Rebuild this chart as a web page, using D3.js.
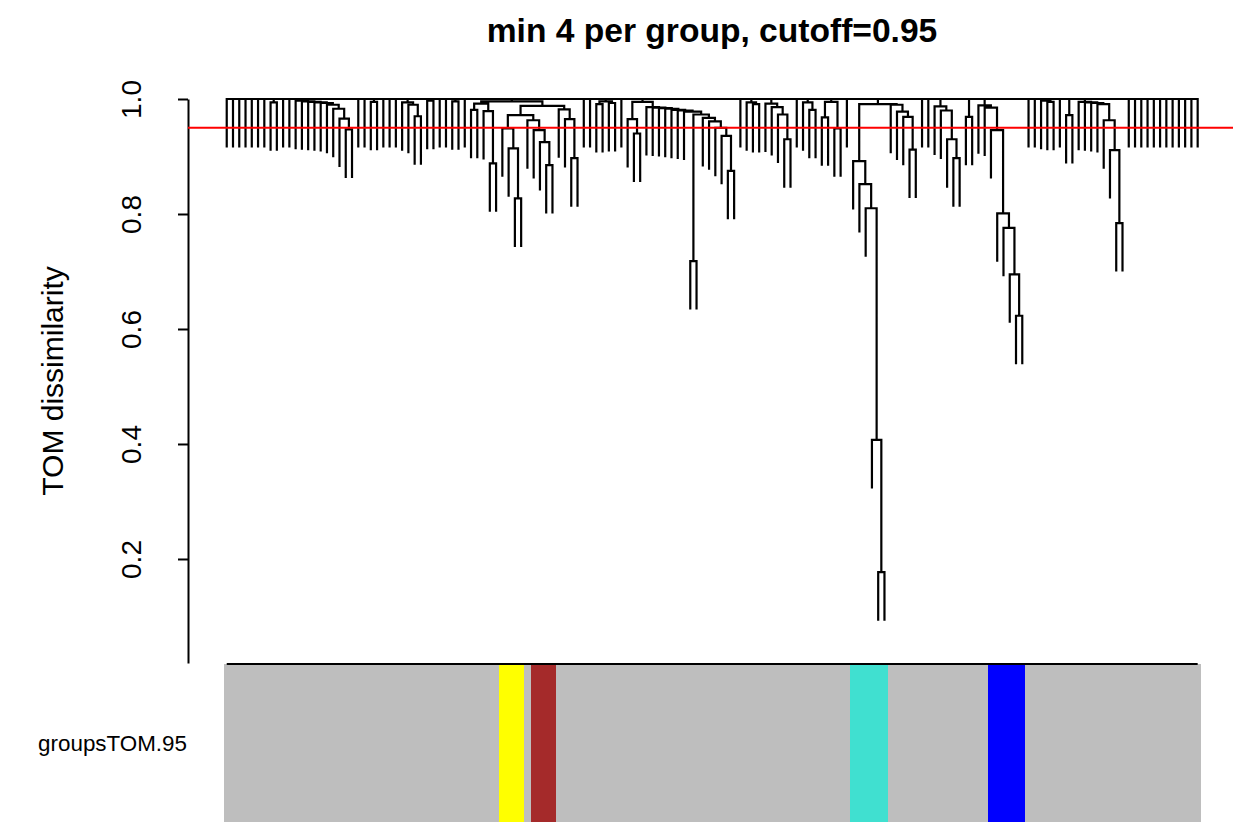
<!DOCTYPE html>
<html>
<head>
<meta charset="utf-8">
<script src="https://d3js.org/d3.v7.min.js"></script>
<style>
  body { margin: 0; background: #fff; }
  svg { display: block; font-family: "Liberation Sans", Arial, Helvetica, sans-serif; }
</style>
</head>
<body>
<div id="chart"></div>
<script>
// ---- data ----
var title = "min 4 per group, cutoff=0.95";
var yLabel = "TOM dissimilarity";
var colorLabel = "groupsTOM.95";
var yTicks = [0.2, 0.4, 0.6, 0.8, 1.0];
var cutHeight = 0.95;
var rootHeight = 1.0;

// top level blocks of the dendrogram, left to right; "x" is a leaf, "(a,b)h" a merge at height h
var treeBlocks = [
  "x", "x", "x", "x", "x", "x", "x",
  "(x,x)0.994",
  "x", "x",
  "(x,(x,(x,(x,(x,(x,(x,(x,(x,x)0.947)0.966)0.983)0.990)0.993)0.994)0.995)0.996)0.997",
  "x", "x",
  "(x,x)0.995",
  "x", "x", "x",
  "(x,(x,(x,x)0.970)0.990)0.994",
  "(x,x)0.997",
  "x", "x",
  "(x,x)0.996",
  "x",
  "(((x,x)0.981,(x,(x,x)0.888)0.979)0.992,(((x,(x,(x,x)0.827)0.914)0.949,(x,(x,(x,(x,x)0.885)0.925)0.946)0.963)0.972,(x,(x,(x,x)0.897)0.965)0.982)0.988)0.996",
  "x", "x",
  "((x,x)0.991,(x,x)0.993)0.996",
  "x",
  "((x,(x,x)0.940)0.965,(x,(x,(x,(x,(x,(x,(x,((x,x)0.718,(x,(x,(x,(x,(x,x)0.875)0.936)0.950)0.961)0.967)0.973)0.978)0.980)0.981)0.983)0.984)0.985)0.986)0.995",
  "x",
  "(x,(x,x)0.991)0.994",
  "(x,(x,(x,(x,x)0.930)0.973)0.986)0.992",
  "x",
  "(x,(x,x)0.981)0.994",
  "((x,x)0.968,(x,x)0.949)0.995",
  "x",
  "((x,(x,(x,(x,(x,x)0.177)0.407)0.810)0.852)0.892,(x,(x,(x,(x,x)0.912)0.969)0.978)0.990)0.991",
  "x", "x",
  "(x,(x,(x,(x,x)0.897)0.930)0.980)0.987",
  "(x,x)0.969",
  "(x,(x,(x,(x,(x,(x,(x,x)0.623)0.695)0.776)0.801)0.946)0.985)0.989",
  "x", "x",
  "(x,(x,x)0.995)0.997",
  "x",
  "(x,x)0.972",
  "(x,(x,(x,(x,(x,(x,(x,x)0.784)0.911)0.963)0.991)0.993)0.994)0.995",
  "x", "x", "x", "x", "x", "x", "x", "x", "x", "x", "x", "x"
];

// module colour bar: groups of consecutive leaves (1-based first leaf)
var groupColors = ["yellow", "brown", "turquoise", "blue"];
var groupFirstLeaf = [45, 50, 101, 123];
var groupLeafCount = [4, 4, 6, 6];
var otherColor = "grey";

var colorHex = { grey: "#BEBEBE", yellow: "#FFFF00", brown: "#A52A2A", turquoise: "#40E0D0", blue: "#0000FF" };

// ---- parse the blocks ----
function parseTree(s) {
  var i = 0;
  function node() {
    if (s[i] === "(") {
      i++;
      var children = [node()];
      while (s[i] === ",") { i++; children.push(node()); }
      i++; // ')'
      var m = /^[0-9.]+/.exec(s.slice(i));
      i += m[0].length;
      return { h: +m[0], children: children };
    }
    i++; // leaf
    return { h: null };
  }
  return node();
}

var rootData = { h: rootHeight, children: treeBlocks.map(parseTree) };
var root = d3.hierarchy(rootData);
var leaves = root.leaves();
var n = leaves.length;
d3.cluster().size([n, 1]).separation(function() { return 1; })(root);

var heights = root.descendants().filter(function(d) { return d.children; }).map(function(d) { return d.data.h; });
var hang = 0.1 * (d3.max(heights) - d3.min(heights));

// leaf colours, then runs of equal colour for the bar
var leafColor = leaves.map(function() { return otherColor; });
groupColors.forEach(function(c, g) {
  for (var k = 0; k < groupLeafCount[g]; k++) leafColor[groupFirstLeaf[g] - 1 + k] = c;
});
var runs = [];
leafColor.forEach(function(c, i) {
  var last = runs[runs.length - 1];
  if (last && last.color === c) last.end = i + 1;
  else runs.push({ color: c, start: i, end: i + 1 });
});

// ---- drawing ----
var W = 1233, H = 822;
var svg = d3.select("#chart").append("svg").attr("width", W).attr("height", H);

var x = d3.scaleLinear().domain([0, n]).range([223.6, 1200.8]);
var y = d3.scaleLinear().domain([0.0191, 1.0]).range([663, 99]);

svg.append("text").text(title)
  .attr("x", 712).attr("y", 42)
  .attr("text-anchor", "middle")
  .style("font-size", "33.6px").style("font-weight", "bold");

// y axis
var yAxis = svg.append("g").attr("transform", "translate(188,0)")
  .call(d3.axisLeft(y).tickValues(yTicks).tickSize(10).tickSizeOuter(0).tickFormat(d3.format(".1f")));
yAxis.select(".domain").attr("stroke", "#000").attr("stroke-width", 2);
yAxis.selectAll(".tick line").attr("stroke", "#000").attr("stroke-width", 2);
yAxis.selectAll(".tick text")
  .attr("x", 0).attr("dy", null)
  .attr("transform", "translate(-47,0) rotate(-90)")
  .attr("text-anchor", "middle")
  .attr("fill", "#000")
  .style("font-size", "28px").style("font-family", "'Liberation Sans', Arial, sans-serif");

svg.append("text").text(yLabel)
  .attr("transform", "translate(63," + ((99 + 663) / 2) + ") rotate(-90)")
  .attr("text-anchor", "middle")
  .style("font-size", "30px");

// dendrogram
var p = d3.path();
root.descendants().forEach(function(d) {
  if (d.parent) {
    var top = d.parent.data.h;
    var bottom = d.children ? d.data.h : top - hang;
    p.moveTo(x(d.x), y(top));
    p.lineTo(x(d.x), y(bottom));
  }
  if (d.children) {
    p.moveTo(x(d.children[0].x), y(d.data.h));
    p.lineTo(x(d.children[d.children.length - 1].x), y(d.data.h));
  }
});
svg.append("path").attr("d", p.toString())
  .attr("fill", "none").attr("stroke", "#000").attr("stroke-width", 2.2)
  .attr("stroke-linecap", "square");

// cut line
svg.append("line")
  .attr("x1", 188).attr("x2", W)
  .attr("y1", y(cutHeight)).attr("y2", y(cutHeight))
  .attr("stroke", "#FF0000").attr("stroke-width", 2);

// colour bar
svg.append("g").selectAll("rect").data(runs).join("rect")
  .attr("x", function(d) { return x(d.start); })
  .attr("width", function(d) { return x(d.end) - x(d.start); })
  .attr("y", 664).attr("height", H - 664)
  .attr("fill", function(d) { return colorHex[d.color]; })
  .attr("shape-rendering", "crispEdges");

svg.append("line")
  .attr("x1", x(0.5)).attr("x2", x(n - 0.5))
  .attr("y1", 664).attr("y2", 664)
  .attr("stroke", "#000").attr("stroke-width", 2);

svg.append("text").text(colorLabel)
  .attr("x", 187).attr("y", 751)
  .attr("text-anchor", "end")
  .style("font-size", "22.4px");
</script>
</body>
</html>
